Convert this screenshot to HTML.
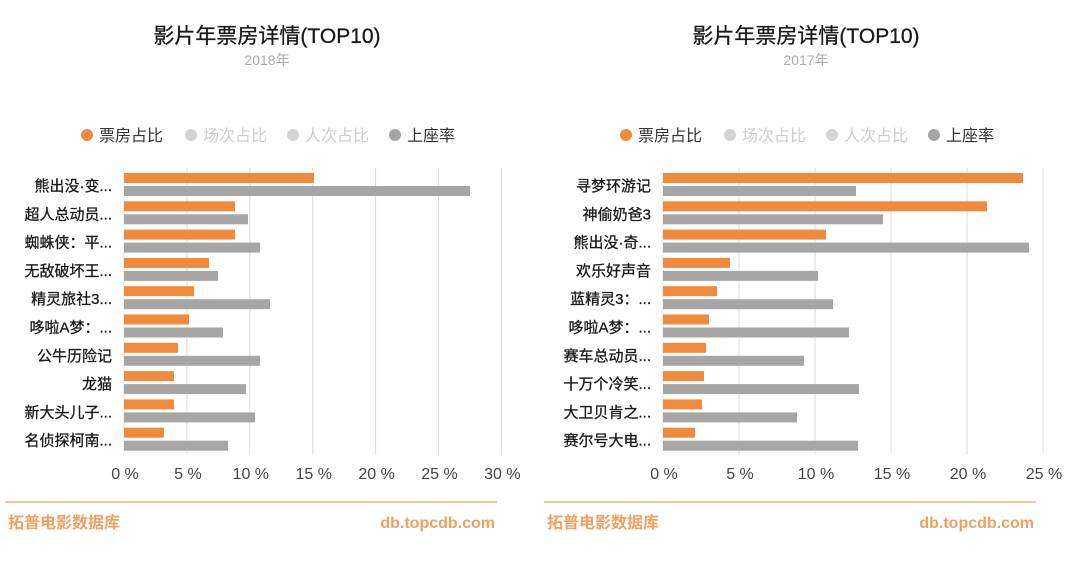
<!DOCTYPE html>
<html><head><meta charset="utf-8"><style>
html,body{margin:0;padding:0;background:#fff;width:1080px;height:566px;overflow:hidden}
svg text{font-family:"Liberation Sans","Noto Sans CJK SC",sans-serif}
</style></head><body>
<svg id="s" width="1080" height="566" xmlns="http://www.w3.org/2000/svg"></svg>
<script>
const s=document.getElementById('s');let h='';
const charts=[
 {off:0,year:'2018年',z:124,px:62.9,ticks:['0 %','5 %','10 %','15 %','20 %','25 %','30 %'],
  labels:['熊出没·变...','超人总动员...','蜘蛛侠：平...','无敌破坏王...','精灵旅社3...','哆啦A梦：...','公牛历险记','龙猫','新大头儿子...','名侦探柯南...'],
  o:[190,111,111,85,70,65,54,50,50,40],g:[346,124,136,94,146,99,136,122,131,104]},
 {off:539,year:'2017年',z:663,px:76,ticks:['0 %','5 %','10 %','15 %','20 %','25 %'],
  labels:['寻梦环游记','神偷奶爸3','熊出没·奇...','欢乐好声音','蓝精灵3：...','哆啦A梦：...','赛车总动员...','十万个冷笑...','大卫贝肯之...','赛尔号大电...'],
  o:[360,324,163,67,54,46,43,41,39,32],g:[193,220,366,155,170,186,141,196,134,195]}
];
for(const c of charts){
 const f=c.off;
 h+=`<text x="${267+f}" y="43" font-size="21" text-anchor="middle" fill="#1a1a1a" stroke="#1a1a1a" stroke-width="0.3">影片年票房详情(TOP10)</text>`;
 h+=`<text x="${267+f}" y="65" font-size="14" text-anchor="middle" fill="#aaa">${c.year}</text>`;
 const lg=[[87,'#f08a3c','票房占比','#333'],[191,'#d4d4d4','场次占比','#ccc'],[293,'#d4d4d4','人次占比','#ccc'],[395,'#a6a6a6','上座率','#333']];
 for(const [x,col,t,tc] of lg){h+=`<circle cx="${x+f}" cy="135" r="6" fill="${col}"/><text x="${x+f+12}" y="141" font-size="16" fill="${tc}">${t}</text>`;}
 c.ticks.forEach((t,i)=>{const x=c.z+i*c.px;
  h+=`<line x1="${x}" y1="168" x2="${x}" y2="455" stroke="${i==0?'#e4e4e4':'#ddd'}" stroke-width="1"/>`;
  h+=`<text x="${x+1}" y="479" font-size="16" text-anchor="middle" fill="#444">${t}</text>`;});
 c.labels.forEach((l,i)=>{const y=173+28.3*i;
  h+=`<rect x="${c.z}" y="${y}" width="${c.o[i]}" height="10" fill="#f08a3c"/>`;
  h+=`<rect x="${c.z}" y="${y+13}" width="${c.g[i]}" height="10" fill="#a6a6a6"/>`;
  h+=`<text x="${c.z-12}" y="${y+18}" font-size="15" text-anchor="end" fill="#1a1a1a" stroke="#1a1a1a" stroke-width="0.3">${l}</text>`;});
 h+=`<line x1="${5+f}" y1="502" x2="${497+f}" y2="502" stroke="#f2b27e" stroke-width="1.5"/>`;
 h+=`<text x="${8+f}" y="528" font-size="16" font-weight="bold" fill="#f0a060">拓普电影数据库</text>`;
 h+=`<text x="${495+f}" y="528" font-size="16" font-weight="bold" text-anchor="end" fill="#f0a060">db.topcdb.com</text>`;
}
s.innerHTML=h;
</script>
</body></html>
